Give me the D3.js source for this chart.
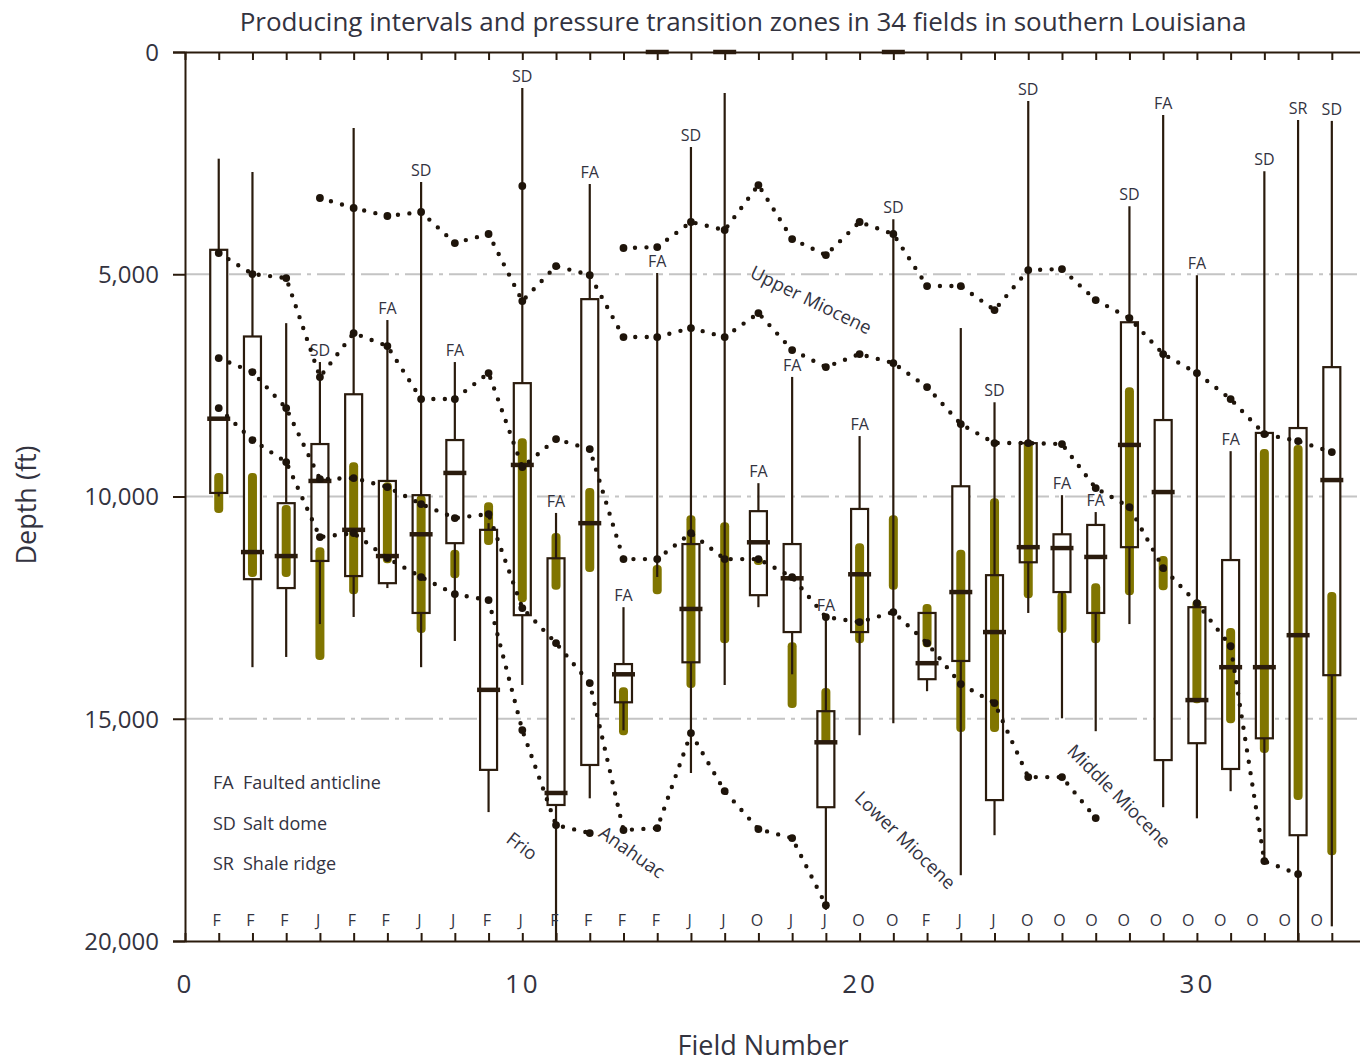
<!DOCTYPE html>
<html>
<head>
<meta charset="utf-8">
<script src="https://cdn.jsdelivr.net/npm/d3@7"></script>
<style>
  body { margin: 0; background: #fff; }
  svg { display: block; font-family: "Open Sans", "Noto Sans", sans-serif; }
</style>
</head>
<body>
<svg id="chart" width="1360" height="1062"></svg>
<script>
// ---- Field data (depths in ft) ----
const fields = d3.range(1, 35);
const whiskerTop    = [2400, 2700, 6100, 6975, 1710, 6030, 2925, 6975, 10600, 810, 10370, 2970, 12490, 4970, 2140, 920, 9700, 7310, 12710, 8640, 3760, 12620, 6210, 7880, 1100, 9970, 10350, 3470, 1420, 5020, 8980, 2680, 1530, 1550];
const boxTop        = [4450, 6400, 10150, 8820, 7700, 9650, 9970, 8730, 10750, 7450, 11390, 5560, 13770, null, 11070, null, 10330, 11070, 14830, 10280, null, 12620, 9770, 11770, 8800, 10850, 10640, 6080, 8280, 12490, 11430, 8570, 8460, 7090];
const medianDepth   = [8250, 11250, 11340, 9650, 10750, 11340, 10850, 9470, 14350, 9290, 16670, 10600, 14000, 0, 12530, 0, 11030, 11840, 15530, 11750, 0, 13750, 12150, 13050, 11140, 11160, 11360, 8840, 9900, 14580, 13840, 13840, 13120, 9630];
const boxBottom     = [9920, 11860, 12060, 11450, 11790, 11950, 12620, 11050, 16150, 12670, 16940, 16040, 14630, null, 13730, null, 12220, 13050, 16990, 13050, null, 14110, 13700, 16830, 11480, 12150, 12620, 11140, 15930, 15550, 16130, 15440, 17620, 14020];
const whiskerBottom = [10000, 13840, 13610, 12870, 12710, 12060, 13840, 13250, 17100, 14240, 20000, 16790, 15260, 11810, 16220, 14240, 12490, 14000, 19300, 15370, 15100, 14380, 18520, 17620, 12620, 14990, 15280, 12870, 16990, 17240, 16630, 18230, 20000, 19670];
const producingTop    = [9470, 9470, 10190, 11140, 9230, 9680, 9970, 11200, 10130, 8690, 10820, 9810, 14290, 11540, 10420, 10580, 11360, 13280, 14310, 11050, 10420, 12420, 11200, 10040, 8730, 12150, 11950, 7540, 11340, 12330, 12960, 8930, 8840, 12150];
const producingBottom = [10370, 11810, 11810, 13680, 12200, 11500, 13070, 11840, 11090, 12380, 12100, 11700, 15370, 12200, 14310, 13300, 11540, 14760, 15550, 13300, 12100, 13390, 15300, 15300, 12290, 13070, 13300, 12220, 12110, 14650, 15100, 15770, 16830, 18070];
const structure = ["", "", "", "SD", "", "FA", "SD", "FA", "", "SD", "FA", "FA", "FA", "FA", "SD", "", "FA", "FA", "FA", "FA", "SD", "", "", "SD", "SD", "FA", "FA", "SD", "FA", "FA", "FA", "SD", "SR", "SD"];
const ageCode = ["F", "F", "F", "J", "F", "F", "J", "J", "F", "J", "F", "F", "F", "F", "J", "J", "O", "J", "J", "O", "O", "F", "J", "J", "O", "O", "O", "O", "O", "O", "O", "O", "O", "O"];

// ---- Pressure transition lines: first field + depth at each consecutive field ----
const transitionUpperMiocene = { first: 13, depths: [4410, 4388, 3825, 4005, 2993, 4208, 4568, 3825, 4095, 5265, 5265, 5805, 4905, 4883, 5580, 5985, 6795, 7223, 7808, 8595, 8753, 9000] };
const transitionMiddleMiocene = { first: 4, depths: [3285, 3510, 3690, 3600, 4298, 4095, 5603, 4815, 5018, 6413, 6413, 6210, 6413, 5873, 6705, 7088, 6795, 6998, 7538, 8370, 8798, 8798, 8820, 9810, 10238, 11610, 12398, 13365, 18203, 18495] };
const transitionLowerMiocene = { first: 1, depths: [4523, 4995, 5085, 7313, 6323, 6615, 7808, 7808, 7223, 9338, 8708, 8933, 11408, 11408, 10823, 11408, 11408, 11813, 12713, 12825, 12600, 13298, 14220, 14648, 16313, 16313, 17235] };
const transitionAnahuac = { first: 1, depths: [6885, 7200, 8010, 9608, 9585, 9788, 10170, 10485, 10395, 12510, 13298, 14198, 17505, 17460, 15323, 16628, 17483, 17685, 19193] };
const transitionFrio = { first: 1, depths: [8010, 8730, 9225, 10913, 10823, 11385, 11813, 12195, 12330, 15255, 17393, 17573] };
const isolatedPoints = [{ field: 10, depth: 3015 }];

const unitLabels = [
  { text: "Upper Miocene",  field: 18.56, depth: 5580,  angle: 26 },
  { text: "Lower Miocene",  field: 21.35, depth: 17730, angle: 44 },
  { text: "Middle Miocene", field: 27.69, depth: 16740, angle: 45 },
  { text: "Frio",           field: 9.99,  depth: 17865, angle: 37 },
  { text: "Anahuac",        field: 13.25, depth: 18000, angle: 35 }
];
const legendItems = [["FA", "Faulted anticline"], ["SD", "Salt dome"], ["SR", "Shale ridge"]];
const depthTicks = [0, 5000, 10000, 15000, 20000];
const fieldTicks = [0, 10, 20, 30];

// ---- Styles ----
const ink = "#2a1b0d";
const textInk = "#33333f";
const olive = "#807500";

const svg = d3.select("#chart");
const x = d3.scaleLinear().domain([0, 35]).range([185, 185 + 35 * 33.73]);
const y = d3.scaleLinear().domain([0, 20000]).range([52, 941]);

// Title
svg.append("text").attr("x", 743).attr("y", 31).attr("text-anchor", "middle")
  .attr("font-size", 26).attr("fill", textInk)
  .text("Producing intervals and pressure transition zones in 34 fields in southern Louisiana");

// Dash-dot reference lines
svg.append("g").selectAll("line").data([5000, 10000, 15000]).join("line")
  .attr("x1", x(0)).attr("x2", 1360).attr("y1", d => y(d)).attr("y2", d => y(d))
  .attr("stroke", "#c4c4c4").attr("stroke-width", 2)
  .attr("stroke-dasharray", "28 6 4 6");

// Axes
const axisStyle = g => {
  g.selectAll(".domain, .tick line").attr("stroke", ink).attr("stroke-width", 2);
  g.selectAll("text").attr("fill", textInk).attr("font-family", "Open Sans, sans-serif");
};
svg.append("g").attr("transform", `translate(${x(0)},0)`)
  .call(d3.axisLeft(y).tickValues(depthTicks).tickSize(12).tickPadding(14).tickFormat(d3.format(",")))
  .call(axisStyle)
  .call(g => g.selectAll("text").attr("font-size", 24).attr("dy", "0.35em"));

svg.append("g").attr("transform", `translate(0,${y(0)})`)
  .call(d3.axisTop(x).tickValues(d3.range(0, 36)).tickSizeInner(-8).tickSizeOuter(0).tickFormat(""))
  .call(axisStyle);

svg.append("g").attr("transform", `translate(0,${y(20000)})`)
  .call(d3.axisBottom(x).tickValues(d3.range(0, 36)).tickSizeInner(-8).tickSizeOuter(0).tickFormat(""))
  .call(axisStyle);

svg.append("g").attr("transform", `translate(0,${y(20000)})`)
  .call(d3.axisBottom(x).tickValues(fieldTicks).tickSize(0).tickPadding(34).tickFormat(d3.format("d")))
  .call(axisStyle)
  .call(g => g.select(".domain").remove())
  .call(g => g.selectAll("text").attr("font-size", 26).attr("letter-spacing", 3));

// Axis titles
svg.append("text").attr("transform", "translate(36,505) rotate(-90)").attr("text-anchor", "middle")
  .attr("font-size", 27).attr("fill", textInk).text("Depth (ft)");
svg.append("text").attr("x", 763).attr("y", 1055).attr("text-anchor", "middle")
  .attr("font-size", 27).attr("fill", textInk).text("Field Number");

// Field records
const rows = fields.map((f, i) => ({
  field: f, wTop: whiskerTop[i], q1: boxTop[i], med: medianDepth[i], q3: boxBottom[i],
  wBot: whiskerBottom[i], pTop: producingTop[i], pBot: producingBottom[i],
  structure: structure[i], age: ageCode[i]
}));

const boxW = 17, medW = 23, prodW = 9;
const gFields = svg.append("g");

// white box interiors
gFields.selectAll("rect.bg").data(rows.filter(r => r.q1 !== null)).join("rect")
  .attr("class", "bg")
  .attr("x", r => x(r.field) - boxW / 2).attr("width", boxW)
  .attr("y", r => y(r.q1)).attr("height", r => y(r.q3) - y(r.q1))
  .attr("fill", "#fff");

// producing intervals
gFields.selectAll("rect.prod").data(rows).join("rect")
  .attr("class", "prod")
  .attr("x", r => x(r.field) - prodW / 2).attr("width", prodW)
  .attr("y", r => y(r.pTop)).attr("height", r => y(r.pBot) - y(r.pTop))
  .attr("rx", 4).attr("fill", olive);

// whiskers (outside the box)
const whiskerSegs = rows.flatMap(r => r.q1 === null
  ? [{ f: r.field, a: r.wTop, b: r.wBot }]
  : [{ f: r.field, a: r.wTop, b: r.q1 }, { f: r.field, a: r.q3, b: r.wBot }]);
gFields.selectAll("line.wh").data(whiskerSegs.filter(s => s.b > s.a)).join("line")
  .attr("class", "wh")
  .attr("x1", s => x(s.f)).attr("x2", s => x(s.f))
  .attr("y1", s => y(s.a)).attr("y2", s => y(s.b))
  .attr("stroke", ink).attr("stroke-width", 2.2);

// box outlines
gFields.selectAll("rect.box").data(rows.filter(r => r.q1 !== null)).join("rect")
  .attr("class", "box")
  .attr("x", r => x(r.field) - boxW / 2).attr("width", boxW)
  .attr("y", r => y(r.q1)).attr("height", r => y(r.q3) - y(r.q1))
  .attr("fill", "none").attr("stroke", ink).attr("stroke-width", 2.2);

// medians
gFields.selectAll("line.med").data(rows).join("line")
  .attr("class", "med")
  .attr("x1", r => x(r.field) - medW / 2).attr("x2", r => x(r.field) + medW / 2)
  .attr("y1", r => y(r.med)).attr("y2", r => y(r.med))
  .attr("stroke", ink).attr("stroke-width", 4.5);

// structure type labels above the whiskers
gFields.selectAll("text.st").data(rows.filter(r => r.structure)).join("text")
  .attr("class", "st")
  .attr("x", r => x(r.field)).attr("y", r => y(r.wTop) - 6)
  .attr("text-anchor", "middle").attr("font-size", 16).attr("fill", textInk)
  .text(r => r.structure);

// age code row
const ageX = d3.scaleLinear().domain([1, 25, 34]).range([x(1) - 2, x(25) - 1, x(34) - 15]);
gFields.selectAll("text.age").data(rows).join("text")
  .attr("class", "age")
  .attr("x", r => ageX(r.field)).attr("y", 926)
  .attr("text-anchor", "middle").attr("font-size", 16).attr("fill", textInk)
  .text(r => r.age);

// Transition lines drawn as dotted chains
const lines = [transitionUpperMiocene, transitionMiddleMiocene, transitionLowerMiocene, transitionAnahuac, transitionFrio];
const lineGen = d3.line().x(p => x(p.field)).y(p => y(p.depth));
const gLines = svg.append("g");
lines.forEach(t => {
  const pts = t.depths.map((d, i) => ({ field: t.first + i, depth: d }));
  gLines.append("path").attr("d", lineGen(pts))
    .attr("fill", "none").attr("stroke", "#1e140a").attr("stroke-width", 4.4)
    .attr("stroke-linecap", "round").attr("stroke-dasharray", "0 11.5");
  gLines.selectAll(null).data(pts).join("circle")
    .attr("cx", p => x(p.field)).attr("cy", p => y(p.depth)).attr("r", 3.9)
    .attr("fill", "#1e140a");
});
gLines.selectAll(null).data(isolatedPoints).join("circle")
  .attr("cx", p => x(p.field)).attr("cy", p => y(p.depth)).attr("r", 3.9)
  .attr("fill", "#1e140a");

// Stratigraphic unit labels
svg.append("g").selectAll("text").data(unitLabels).join("text")
  .attr("transform", d => `translate(${x(d.field)},${y(d.depth)}) rotate(${d.angle})`)
  .attr("text-anchor", "middle").attr("dy", "0.35em")
  .attr("font-size", 18.5).attr("fill", textInk)
  .text(d => d.text);

// Legend
const lg = svg.append("g").attr("transform", "translate(213,789)");
legendItems.forEach(([code, name], i) => {
  lg.append("text").attr("x", 0).attr("y", i * 40.5).attr("font-size", 18).attr("fill", textInk).text(code);
  lg.append("text").attr("x", 30).attr("y", i * 40.5).attr("font-size", 18).attr("fill", textInk).text(name);
});
</script>
</body>
</html>
